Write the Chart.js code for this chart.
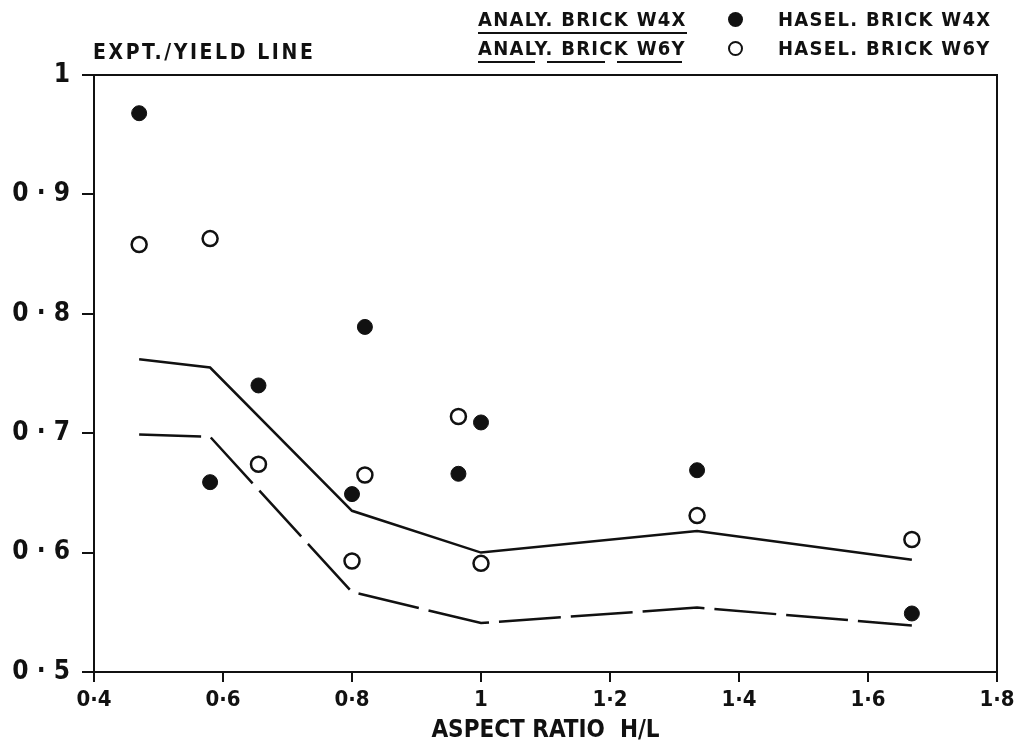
<!DOCTYPE html>
<html>
<head>
<meta charset="utf-8">
<script src="https://cdn.jsdelivr.net/npm/chart.js@4"></script>
<style>
  html, body { margin: 0; padding: 0; background: #fff; }
  #wrap { position: relative; width: 1015px; height: 747px; }
  canvas { position: absolute; left: 0; top: 0; }
  .lbl { position: absolute; font-family: "DejaVu Sans Condensed", "DejaVu Sans", sans-serif; font-weight: bold; color: #111; white-space: nowrap; line-height: 1; }
  .leg { font-size: 20px; letter-spacing: 1.3px; }
  .u-solid { border-bottom: 2px solid #111; padding-bottom: 3px; }
  .u-dash { padding-bottom: 5px;
    background-image: linear-gradient(90deg, #111 0 57px, transparent 57px 69px, #111 69px 127px, transparent 127px 139px, #111 139px 204px, transparent 204px);
    background-size: 100% 2px; background-repeat: no-repeat; background-position: 0 100%; }
  .dot { position: absolute; width: 15px; height: 15px; border-radius: 50%; box-sizing: border-box; }
</style>
</head>
<body>
<div id="wrap">
  <canvas id="chart" width="1015" height="747"></canvas>
  <div class="lbl" style="left:93px; top:42px; font-size:21px; letter-spacing:2.6px;">EXPT./YIELD LINE</div>
  <div class="lbl leg u-solid" style="left:478px; top:9px;">ANALY. BRICK W4X</div>
  <div class="lbl leg u-dash" style="left:478px; top:38px;">ANALY. BRICK W6Y</div>
  <div class="dot" style="left:728px; top:12px; background:#111;"></div>
  <div class="dot" style="left:728px; top:41px; border:2.5px solid #111; background:#fff;"></div>
  <div class="lbl leg" style="left:778px; top:9px;">HASEL. BRICK W4X</div>
  <div class="lbl leg" style="left:778px; top:38px;">HASEL. BRICK W6Y</div>
</div>
<script>
// experimental points (Hasel.)
const aspectRatios = [0.47, 0.58, 0.655, 0.80, 0.82, 0.965, 1.0, 1.335, 1.668];
const haselW4X = [0.968, 0.659, 0.740, 0.649, 0.789, 0.666, 0.709, 0.669, 0.549];
const haselW6Y = [0.858, 0.863, 0.674, 0.593, 0.665, 0.714, 0.591, 0.631, 0.611];

// analytical lines
const analyX = [0.47, 0.58, 0.80, 1.0, 1.335, 1.668];
const analyW4X = [0.762, 0.755, 0.635, 0.600, 0.618, 0.594];
const analyW6Y = [0.699, 0.697, 0.567, 0.541, 0.554, 0.539];

const xTicks = [0.4, 0.6, 0.8, 1, 1.2, 1.4, 1.6, 1.8];
const yTicks = [0.5, 0.6, 0.7, 0.8, 0.9, 1];

const fontFam = '"DejaVu Sans Condensed", "DejaVu Sans", sans-serif';
const ink = '#111';

function pts(xs, ys) {
  return xs.map((x, i) => ({ x: x, y: ys[i] }));
}

function fmt(v) {
  return String(Math.round(v * 10) / 10).replace('.', '·');
}

// top and right side of the box
const frame = {
  id: 'frame',
  afterDraw(chart) {
    const a = chart.chartArea;
    const ctx = chart.ctx;
    ctx.save();
    ctx.strokeStyle = ink;
    ctx.lineWidth = 2;
    ctx.beginPath();
    ctx.moveTo(a.left, a.top);
    ctx.lineTo(a.right, a.top);
    ctx.lineTo(a.right, a.bottom + 10);
    ctx.stroke();
    ctx.restore();
  }
};

new Chart(document.getElementById('chart'), {
  type: 'scatter',
  data: {
    datasets: [
      {
        label: 'ANALY. BRICK W4X',
        type: 'line',
        data: pts(analyX, analyW4X),
        borderColor: ink,
        borderWidth: 2.5,
        pointRadius: 0,
        fill: false,
        tension: 0
      },
      {
        label: 'ANALY. BRICK W6Y',
        type: 'line',
        data: pts(analyX, analyW6Y),
        borderColor: ink,
        borderWidth: 2.5,
        borderDash: [62, 10],
        pointRadius: 0,
        fill: false,
        tension: 0
      },
      {
        label: 'HASEL. BRICK W4X',
        data: pts(aspectRatios, haselW4X),
        backgroundColor: ink,
        borderColor: ink,
        borderWidth: 1,
        pointRadius: 7.5
      },
      {
        label: 'HASEL. BRICK W6Y',
        data: pts(aspectRatios, haselW6Y),
        backgroundColor: '#fff',
        borderColor: ink,
        borderWidth: 2.5,
        pointRadius: 7.5
      }
    ]
  },
  plugins: [frame],
  options: {
    responsive: false,
    animation: false,
    events: [],
    layout: { padding: { left: 0, top: 75, right: 18, bottom: 0 } },
    plugins: {
      legend: { display: false },
      tooltip: { enabled: false }
    },
    scales: {
      x: {
        type: 'linear',
        min: 0.4,
        max: 1.8,
        afterFit(scale) {
          scale.height = 75;
          scale.paddingLeft = 0;
          scale.paddingRight = 0;
        },
        afterBuildTicks(scale) { scale.ticks = xTicks.map(v => ({ value: v })); },
        border: { color: ink, width: 2 },
        grid: { drawOnChartArea: false, color: ink, lineWidth: 2, tickLength: 10 },
        ticks: {
          color: ink,
          padding: 5,
          maxRotation: 0,
          font: { family: fontFam, size: 22, weight: 'bold' },
          callback: v => fmt(v)
        },
        title: {
          display: true,
          text: 'ASPECT RATIO  H/L',
          color: ink,
          padding: { top: 0, bottom: 2 },
          font: { family: fontFam, size: 24, weight: 'bold' }
        }
      },
      y: {
        type: 'linear',
        min: 0.5,
        max: 1,
        afterFit(scale) {
          scale.width = 94;
          scale.paddingTop = 0;
          scale.paddingBottom = 0;
        },
        afterBuildTicks(scale) { scale.ticks = yTicks.map(v => ({ value: v })); },
        border: { color: ink, width: 2 },
        grid: { drawOnChartArea: false, color: ink, lineWidth: 2, tickLength: 12 },
        ticks: {
          color: ink,
          padding: 12,
          font: { family: fontFam, size: 26, weight: 'bold' },
          callback: v => fmt(v).replace('·', ' · ')
        }
      }
    }
  }
});
</script>
</body>
</html>
